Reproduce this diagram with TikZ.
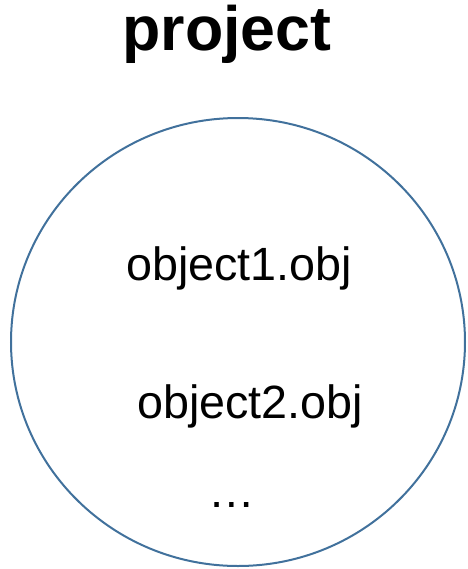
\documentclass[tikz,border=0pt]{standalone}
\usepackage{fontspec}
\setmainfont{Liberation Sans}
\usetikzlibrary{positioning}

\definecolor{ringblue}{HTML}{41719C}

\begin{document}
\begin{tikzpicture}[x=0.75pt, y=-0.75pt,
    file/.style={anchor=base, inner sep=0pt, font=\fontsize{35}{40}\selectfont}]
    \useasboundingbox (0,0) rectangle (468,569);

    % Title above the ring
    \node[anchor=base, inner sep=0pt, font=\fontsize{47}{54}\bfseries\selectfont] (title) at (227,50) {project};

    % The project ring
    \draw[ringblue, line width=1.5pt] (238,342) ellipse [x radius=227, y radius=224];

    % Files held in the project
    \node[file] (obj1) at (239,280) {object1.obj};
    \node[file] (obj2) at (250,418) {object2.obj};
    \node[file] (more) at (232,507) {\dots};
\end{tikzpicture}
\end{document}
